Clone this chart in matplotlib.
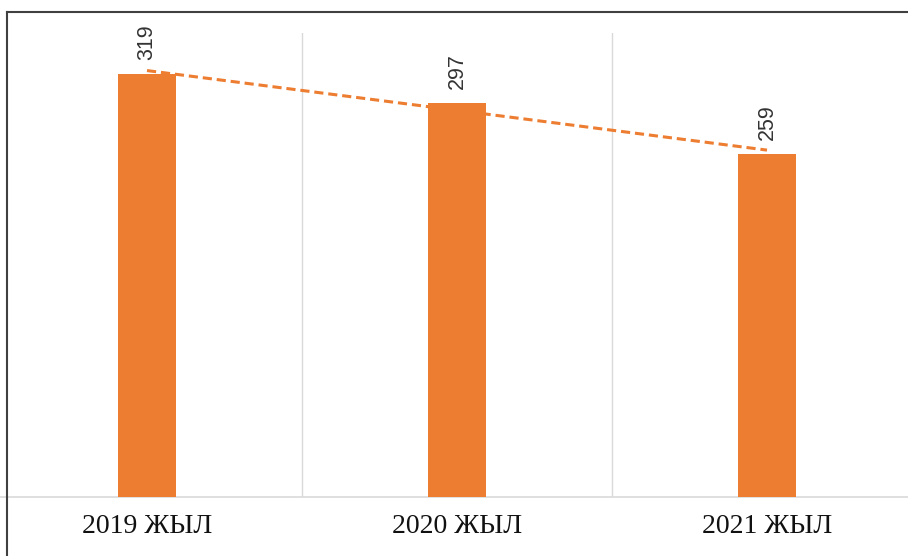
import matplotlib.pyplot as plt
import numpy as np
from matplotlib.lines import Line2D

categories = ["2019 ЖЫЛ", "2020 ЖЫЛ", "2021 ЖЫЛ"]
values = [319, 297, 259]

orange = "#ED7D31"

fig = plt.figure(figsize=(9.08, 5.56), dpi=100)
ax = fig.add_axes([-8 / 908, 59 / 556, 930 / 908, 464 / 556])

x = np.arange(len(categories))
ax.bar(x, values, width=0.185, color=orange, zorder=3)

# linear trend line
k, b = np.polyfit(x, values, 1)
ax.plot(x, k * x + b, color=orange, linestyle=(0, (3, 1.6)), linewidth=2.2, zorder=4)

for xi, v in zip(x, values):
    ax.annotate(str(v), (xi, v), xytext=(0, 10), textcoords="offset points",
                rotation=90, ha="center", va="bottom", fontsize=15.5,
                family="Liberation Sans", color="#333333")

ax.set_xlim(-0.5, 2.5)
ax.set_ylim(0, 350)
ax.set_xticks(x)
ax.set_xticklabels(categories, family="Liberation Serif", fontsize=20, color="#111111")
ax.set_xticks([0.5, 1.5], minor=True)
ax.tick_params(axis="x", which="both", length=0, pad=12)
ax.set_yticks([])
ax.grid(axis="x", which="minor", color="#d9d9d9", linewidth=1, zorder=0)
for s in ["top", "right", "left"]:
    ax.spines[s].set_visible(False)
ax.spines["bottom"].set_color("#d9d9d9")
ax.spines["bottom"].set_linewidth(1.2)

# outer frame (left and top edges visible)
fig.add_artist(Line2D([7 / 908, 7 / 908], [0, 1 - 12 / 556], color="#404040", linewidth=1.5))
fig.add_artist(Line2D([7 / 908, 1], [1 - 12 / 556, 1 - 12 / 556], color="#404040", linewidth=1.5))

fig.savefig("out.png", dpi=100)
